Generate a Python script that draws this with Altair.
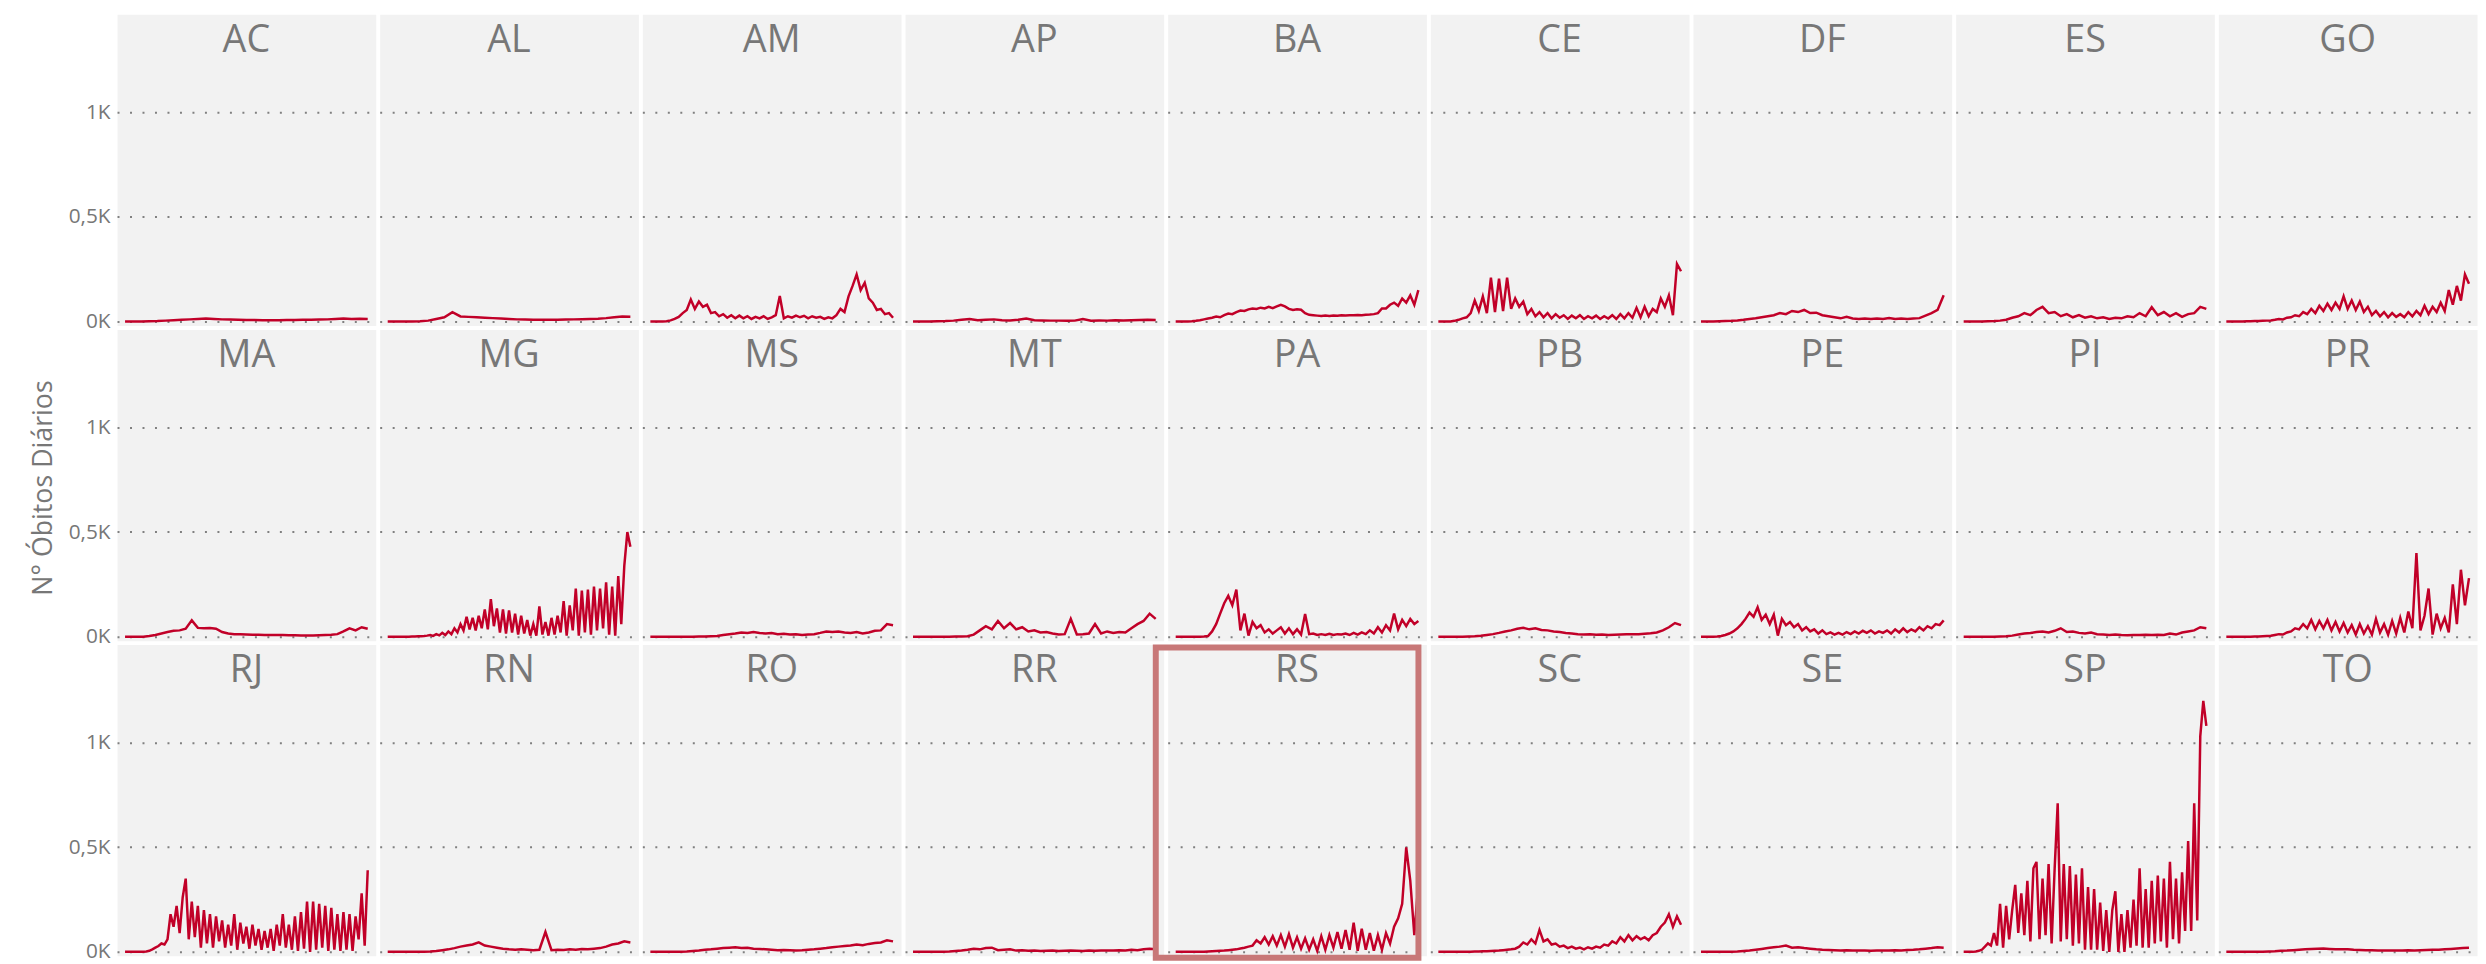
import altair as alt
import pandas as pd

states = ["AC", "AL", "AM", "AP", "BA", "CE", "DF", "ES", "GO",
          "MA", "MG", "MS", "MT", "PA", "PB", "PE", "PI", "PR",
          "RJ", "RN", "RO", "RR", "RS", "SC", "SE", "SP", "TO"]

AC = [0, 0, 0, 1, 2, 4, 6, 8, 10, 12, 14, 12, 10, 9, 8, 7, 7, 6, 6, 6, 7, 7, 8, 8, 9, 10, 12, 14, 12, 13, 12]
AL = [0, 0, 0, 0, 1, 4, 12, 20, 44, 24, 22, 20, 18, 16, 14, 12, 10, 9, 8, 8, 8, 8, 9, 10, 11, 12, 13, 16, 20, 24, 23]
AM = [0, 0, 0, 0, 1, 5, 12, 22, 40, 55, 105, 60, 95, 70, 80, 40, 45, 25, 35, 18, 30, 15, 28, 15, 25, 12, 22, 15,
      25, 12, 20, 30, 122, 15, 25, 18, 28, 20, 27, 15, 25, 18, 22, 12, 20, 15, 30, 60, 45, 120, 170, 225, 150, 185,
      110, 90, 55, 60, 35, 40, 18]
AP = [0, 0, 0, 1, 2, 4, 8, 12, 6, 8, 10, 6, 5, 8, 14, 6, 5, 4, 4, 3, 4, 12, 4, 5, 4, 6, 5, 6, 7, 8, 7]
BA = [0, 0, 0, 0, 1, 3, 6, 10, 14, 18, 24, 20, 30, 38, 35, 45, 52, 50, 58, 62, 60, 66, 62, 70, 64, 72, 80, 72, 60,
      55, 58, 56, 40, 32, 30, 28, 26, 28, 26, 28, 27, 30, 29, 30, 30, 31, 30, 32, 33, 35, 40, 62, 62, 80, 90, 75,
      110, 90, 125, 80, 150]
CE = [0, 0, 0, 0, 3, 8, 15, 20, 40, 100, 50, 120, 40, 210, 45, 205, 50, 210, 60, 110, 70, 95, 35, 60, 25, 45, 20,
      40, 15, 35, 18, 30, 12, 28, 15, 30, 12, 25, 15, 28, 12, 25, 14, 30, 12, 35, 15, 40, 18, 65, 20, 70, 25, 60, 45,
      110, 70, 125, 30, 275, 240]
DF = [0, 0, 0, 1, 2, 3, 5, 8, 12, 15, 20, 25, 30, 40, 35, 50, 45, 55, 40, 42, 30, 25, 20, 15, 22, 14, 12, 14, 12,
      14, 12, 16, 12, 14, 12, 14, 16, 28, 40, 55, 125]
ES = [0, 0, 0, 0, 1, 2, 4, 8, 18, 25, 40, 30, 55, 70, 40, 45, 25, 35, 20, 30, 18, 25, 15, 20, 12, 18, 15, 25, 20,
      40, 25, 68, 30, 45, 25, 40, 22, 35, 40, 70, 60]
GO = [0, 0, 0, 0, 0, 1, 1, 2, 2, 3, 4, 5, 8, 12, 10, 18, 20, 30, 25, 45, 35, 60, 40, 75, 50, 85, 55, 90, 60, 120,
      60, 100, 55, 95, 45, 70, 30, 50, 25, 45, 20, 40, 22, 35, 20, 45, 25, 50, 30, 75, 35, 70, 45, 90, 50, 150, 80,
      170, 100, 225, 180]
MA = [0, 0, 0, 0, 3, 8, 15, 22, 28, 30, 38, 78, 42, 40, 41, 38, 22, 15, 12, 11, 10, 9, 9, 8, 8, 8, 8, 7, 7, 6, 6,
      6, 7, 8, 9, 12, 25, 40, 30, 45, 38]
MG = [0, 0, 0, 0, 0, 0, 0, 0, 1, 1, 2, 2, 3, 5, 8, 4, 12, 6, 18, 8, 25, 12, 40, 20, 60, 30, 95, 35, 90, 30, 100,
      40, 130, 35, 180, 50, 135, 20, 130, 15, 125, 20, 110, 10, 100, 15, 80, 5, 60, 5, 145, 10, 70, 5, 90, 10, 100,
      20, 170, 5, 150, 30, 230, 5, 220, 20, 225, 10, 240, 30, 230, 40, 260, 10, 240, 5, 290, 60, 340, 500, 430]
MS = [0, 0, 0, 0, 0, 0, 0, 0, 1, 1, 2, 3, 8, 12, 15, 20, 18, 22, 18, 15, 17, 12, 14, 10, 12, 8, 10, 12, 18, 25, 22,
      25, 20, 18, 22, 15, 20, 28, 30, 60, 55]
MT = [0, 0, 0, 0, 0, 0, 0, 1, 1, 2, 10, 30, 50, 35, 75, 40, 65, 35, 45, 25, 30, 20, 22, 15, 10, 12, 85, 10, 12,
      15, 60, 15, 25, 18, 22, 20, 40, 60, 75, 110, 85]
PA = [0, 0, 0, 0, 0, 0, 0, 1, 3, 25, 60, 110, 160, 195, 150, 225, 30, 110, 5, 70, 40, 55, 20, 35, 15, 30, 45, 15,
      40, 12, 35, 10, 108, 12, 15, 8, 12, 8, 14, 8, 12, 10, 15, 8, 18, 10, 20, 12, 30, 15, 45, 20, 55, 30, 110, 35,
      80, 50, 85, 60, 75]
PB = [0, 0, 0, 0, 0, 1, 2, 4, 8, 12, 18, 25, 30, 38, 42, 35, 40, 32, 30, 25, 22, 18, 15, 12, 10, 11, 9, 10, 8, 9,
      10, 11, 12, 12, 14, 16, 20, 30, 45, 65, 55]
PE = [0, 0, 0, 0, 1, 3, 8, 15, 25, 40, 60, 85, 115, 95, 140, 80, 105, 60, 105, 5, 85, 55, 70, 45, 60, 30, 45, 25,
      35, 15, 30, 12, 20, 10, 18, 10, 22, 12, 25, 15, 28, 18, 30, 15, 25, 18, 30, 15, 35, 20, 40, 22, 35, 25, 45,
      30, 50, 40, 60, 55, 78]
PI = [0, 0, 0, 0, 0, 0, 1, 2, 5, 10, 15, 18, 22, 25, 20, 28, 40, 22, 25, 18, 15, 20, 12, 10, 8, 10, 8, 7, 8, 8, 9,
      8, 9, 8, 15, 10, 20, 25, 30, 45, 40]
PR = [0, 0, 0, 0, 0, 0, 0, 1, 1, 2, 3, 4, 8, 12, 10, 20, 25, 40, 35, 60, 40, 80, 35, 75, 40, 80, 30, 70, 25, 65,
      20, 55, 10, 60, 15, 50, 10, 85, 20, 60, 10, 75, 15, 90, 20, 120, 40, 400, 30, 100, 230, 10, 110, 40, 90, 20,
      250, 60, 320, 150, 280]
RJ = [0, 0, 0, 0, 0, 0, 1, 2, 5, 12, 20, 28, 40, 35, 60, 180, 120, 220, 90, 260, 350, 60, 240, 70, 220, 20, 200,
      40, 180, 20, 170, 50, 150, 20, 130, 30, 180, 10, 140, 40, 120, 15, 130, 30, 110, 10, 100, 20, 110, 5, 130, 30,
      180, 20, 130, 10, 170, 5, 190, 15, 240, 0, 240, 10, 230, 20, 220, 5, 210, 10, 180, 5, 190, 10, 180, 5, 170,
      60, 280, 30, 390]
RN = [0, 0, 0, 0, 0, 0, 1, 2, 4, 8, 12, 18, 25, 30, 35, 45, 30, 25, 20, 15, 12, 10, 12, 10, 8, 10, 95, 8, 10, 9,
      12, 10, 14, 12, 15, 18, 25, 35, 40, 50, 45]
RO = [0, 0, 0, 0, 0, 1, 2, 4, 6, 10, 12, 15, 18, 20, 22, 18, 20, 15, 14, 12, 10, 8, 9, 8, 7, 8, 10, 12, 15, 18,
      22, 25, 28, 30, 35, 32, 38, 42, 45, 55, 50]
RR = [0, 0, 0, 0, 0, 1, 2, 4, 6, 10, 15, 12, 18, 20, 8, 10, 12, 6, 8, 5, 6, 4, 5, 6, 4, 5, 6, 5, 4, 6, 5, 6, 7, 6,
      8, 7, 10, 8, 12, 15, 12]
RS = [0, 0, 0, 0, 0, 0, 1, 1, 2, 3, 4, 5, 6, 8, 10, 12, 16, 20, 25, 30, 55, 40, 70, 35, 75, 30, 80, 25, 85, 20, 70,
      15, 65, 10, 60, 5, 75, 10, 80, 20, 95, 15, 105, 10, 140, 5, 110, 10, 90, 5, 80, 10, 90, 40, 120, 160, 230,
      500, 340, 80, 330]
SC = [0, 0, 0, 0, 0, 0, 0, 1, 1, 2, 2, 3, 3, 4, 5, 6, 8, 10, 12, 15, 25, 45, 35, 60, 40, 105, 50, 60, 35, 40, 25,
      30, 18, 25, 15, 20, 12, 22, 15, 25, 20, 35, 30, 50, 40, 70, 50, 80, 55, 75, 60, 70, 55, 80, 90, 120, 140, 180,
      120, 170, 130]
SE = [0, 0, 0, 0, 0, 1, 2, 4, 6, 10, 14, 18, 22, 25, 30, 20, 22, 18, 15, 12, 10, 9, 8, 7, 8, 6, 7, 6, 5, 6, 7, 6,
      8, 7, 9, 10, 12, 15, 18, 22, 20]
SP = [0, 0, 0, 0, 2, 5, 10, 25, 40, 30, 90, 30, 230, 20, 220, 60, 200, 320, 90, 280, 80, 340, 50, 400, 430, 60,
      350, 80, 420, 40, 400, 710, 50, 420, 60, 410, 30, 370, 40, 400, 10, 310, 10, 300, 10, 235, 5, 200, 0, 200, 290,
      0, 180, 0, 200, 20, 250, 30, 400, 20, 300, 20, 340, 40, 365, 50, 350, 20, 430, 60, 350, 40, 380, 100, 530,
      100, 710, 150, 1030, 1200, 1080]
TO = [0, 0, 0, 0, 0, 0, 1, 2, 3, 5, 6, 8, 10, 12, 14, 15, 16, 14, 12, 13, 12, 10, 9, 8, 8, 7, 6, 7, 6, 7, 8, 7, 8,
      9, 10, 10, 12, 14, 16, 18, 20]

series = {"AC": AC, "AL": AL, "AM": AM, "AP": AP, "BA": BA, "CE": CE, "DF": DF, "ES": ES, "GO": GO,
          "MA": MA, "MG": MG, "MS": MS, "MT": MT, "PA": PA, "PB": PB, "PE": PE, "PI": PI, "PR": PR,
          "RJ": RJ, "RN": RN, "RO": RO, "RR": RR, "RS": RS, "SC": SC, "SE": SE, "SP": SP, "TO": TO}

rows = []
for st in states:
    vals = series[st]
    n = len(vals)
    for i, v in enumerate(vals):
        rows.append({"state": st, "i": i, "t": i / (n - 1), "v": v})
df = pd.DataFrame(rows)

W = 261
H = 314
FONT = "Open Sans"
GRAY = "#777777"
NCOL = 9

xscale = alt.Scale(domain=[-0.033, 1.033], nice=False, zero=False)
yscale = alt.Scale(domain=[-19, 1469], nice=False, zero=False)


def yaxis(show_labels):
    common = dict(values=[0, 500, 1000], title=None, domain=False, ticks=False,
                  grid=True, gridDash=[2, 10.6], gridColor="#808080", gridWidth=2)
    if show_labels:
        return alt.Axis(labels=True,
                        labelExpr="datum.value == 0 ? '0K' : datum.value == 500 ? '0,5K' : '1K'",
                        labelFontSize=21, labelColor=GRAY, labelFont=FONT, labelPadding=7, **common)
    return alt.Axis(labels=False, **common)


panels = []
for k, st in enumerate(states):
    sub = alt.Chart(df).transform_filter(alt.datum.state == st)
    line = sub.mark_line(color="#C10028", strokeWidth=2.5).encode(
        x=alt.X("t:Q", scale=xscale, axis=None),
        y=alt.Y("v:Q", scale=yscale, axis=yaxis(k % NCOL == 0)),
        order="i:Q",
    )
    label = sub.mark_text(fontSize=38, color=GRAY, font=FONT, align="center",
                          baseline="alphabetic").encode(
        x=alt.value(W / 2), y=alt.value(38), text="state:N"
    ).transform_filter("datum.i == 0")
    layers = [line, label]
    if st == "RS":
        highlight = sub.mark_rect(fillOpacity=0, stroke="#C87878", strokeWidth=6).encode(
            x=alt.value(-12), x2=alt.value(W - 8), y=alt.value(3), y2=alt.value(H + 2)
        ).transform_filter("datum.i == 0")
        layers.append(highlight)
    panels.append(alt.layer(*layers).properties(width=W, height=H))

chart = alt.concat(*panels, columns=NCOL, spacing=4, bounds="flush").properties(
    title=alt.TitleParams("N° Óbitos Diários", orient="left", anchor="middle", fontSize=27,
                          color=GRAY, font=FONT, fontWeight="normal", offset=10),
    padding={"left": 22, "top": 1, "right": 0, "bottom": 0},
).configure_view(fill="#F2F2F2", stroke="transparent")

chart.save("out.html", embed_options={"renderer": "svg", "actions": False})
